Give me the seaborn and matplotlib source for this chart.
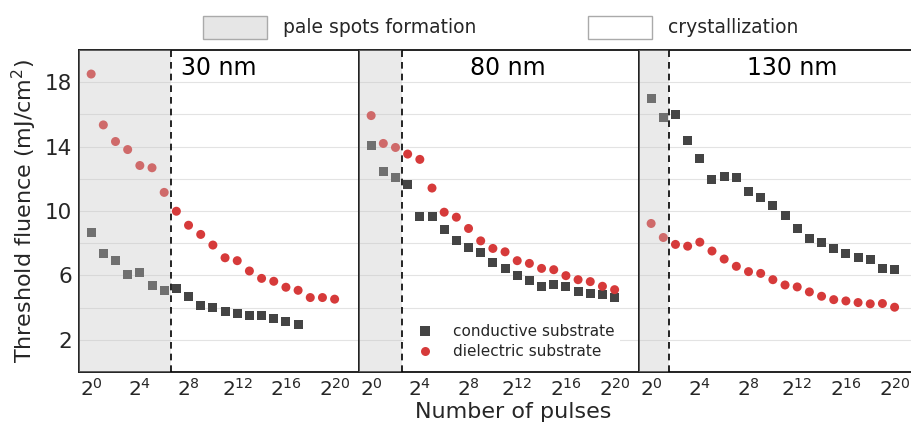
import numpy as np
import pandas as pd
import matplotlib
matplotlib.use('Agg')
import matplotlib.pyplot as plt
import matplotlib.transforms as mtransforms
from matplotlib.patches import Patch
from matplotlib.ticker import FixedLocator, NullFormatter
import seaborn as sns

# values (x = log2 of number of pulses)
thickness = ['30 nm', '80 nm', '130 nm']

cond_30 = [8.64, 7.34, 6.91, 6.08, 6.16, 5.38, 5.07, 5.20, 4.66, 4.14, 4.00, 3.75,
           3.61, 3.53, 3.53, 3.34, 3.11, 2.97]
diel_30 = [18.5, 15.34, 14.31, 13.81, 12.82, 12.68, 11.15, 9.98, 9.11, 8.54, 7.88, 7.09,
           6.91, 6.27, 5.81, 5.63, 5.26, 5.07, 4.62, 4.62, 4.52]

cond_80 = [14.06, 12.43, 12.06, 11.63, 9.63, 9.63, 8.82, 8.19, 7.73, 7.40, 6.80, 6.43,
           6.02, 5.67, 5.28, 5.44, 5.32, 5.01, 4.85, 4.82, 4.60]
diel_80 = [15.92, 14.19, 13.94, 13.53, 13.20, 11.42, 9.92, 9.61, 8.91, 8.14, 7.67, 7.46,
           6.91, 6.74, 6.43, 6.35, 5.98, 5.73, 5.61, 5.32, 5.11]

cond_130 = [16.97, 15.81, 15.98, 14.39, 13.28, 11.96, 12.16, 12.08, 11.18, 10.85, 10.35, 9.69,
            8.93, 8.31, 8.02, 7.65, 7.34, 7.09, 6.99, 6.41, 6.35]
diel_130 = [9.22, 8.35, 7.92, 7.81, 8.06, 7.51, 7.01, 6.56, 6.23, 6.12, 5.73, 5.40,
            5.28, 4.97, 4.70, 4.49, 4.41, 4.31, 4.23, 4.25, 4.02]

# boundary between pale spots and crystallization (log2 pulses)
boundary = [6.6, 2.5, 1.5]
label_x = [10.5, 11.25, 11.6]

rows = []
for name, cond, diel in zip(thickness, [cond_30, cond_80, cond_130], [diel_30, diel_80, diel_130]):
    for i, v in enumerate(cond):
        rows.append((name, 2.0 ** i, v, 'conductive substrate'))
    for i, v in enumerate(diel):
        rows.append((name, 2.0 ** i, v, 'dielectric substrate'))
df = pd.DataFrame(rows, columns=['thickness', 'pulses', 'fluence', 'substrate'])

sns.set_style('white')
plt.rcParams['font.family'] = ['DejaVu Sans']

palette = {'conductive substrate': '#444444', 'dielectric substrate': '#d63a3a'}
markers = {'conductive substrate': 's', 'dielectric substrate': 'o'}

fig = plt.figure(figsize=(9.12, 4.30), dpi=100)
gs = fig.add_gridspec(1, 3, width_ratios=[23, 23, 22.4], wspace=0,
                      left=0.0866, right=0.9996, bottom=0.135, top=0.884)
axes = [fig.add_subplot(gs[0, i]) for i in range(3)]

for k, ax in enumerate(axes):
    sub = df[df['thickness'] == thickness[k]]
    sns.scatterplot(data=sub, x='pulses', y='fluence', hue='substrate', style='substrate',
                    palette=palette, markers=markers, s=42, linewidth=0, ax=ax,
                    legend=(k == 1), zorder=2)
    ax.set_xscale('log', base=2)
    xmax = 21.4 if k == 2 else 22
    ax.set_xlim(2.0 ** -1, 2.0 ** xmax)
    ax.set_ylim(0, 20)
    ax.axvspan(2.0 ** -1, 2.0 ** boundary[k], color='#c4c4c4', alpha=0.35, lw=0, zorder=3)
    ax.axvline(2.0 ** boundary[k], color='black', ls=(0, (4, 3)), lw=1.2, zorder=4)

    ax.xaxis.set_major_locator(FixedLocator([2.0 ** e for e in [0, 4, 8, 12, 16, 20]]))
    ax.set_xticklabels(['$2^{%d}$' % e for e in [0, 4, 8, 12, 16, 20]])
    ax.xaxis.set_minor_locator(FixedLocator([2.0 ** e for e in range(-1, 23)]))
    ax.xaxis.set_minor_formatter(NullFormatter())
    ax.set_yticks([2, 6, 10, 14, 18])
    ax.set_yticks([4, 8, 12, 16], minor=True)
    ax.grid(True, axis='y', which='both', color='#e3e3e3', lw=0.8, zorder=0)
    ax.set_axisbelow(True)
    ax.tick_params(axis='both', which='major', direction='in', length=5, width=1,
                   color='#333333')
    ax.tick_params(axis='x', labelsize=14.5, pad=4)
    ax.tick_params(axis='y', labelsize=15.5, pad=5)
    ax.tick_params(axis='both', which='minor', direction='in', length=3, width=0.8,
                   color='#333333')
    for sp in ax.spines.values():
        sp.set_color('#222222')
        sp.set_linewidth(1.4)
    ax.set_xlabel('')
    ax.set_ylabel('')
    if k > 0:
        ax.tick_params(axis='y', which='both', labelleft=False)

    trans = mtransforms.blended_transform_factory(ax.transData, ax.transAxes)
    ax.text(2.0 ** label_x[k], 0.944, thickness[k], transform=trans, ha='center',
            va='center', fontsize=17, color='black', zorder=5)

axes[0].set_ylabel('Threshold fluence (mJ/cm$^2$)', fontsize=16, labelpad=4)
fig.text(0.5625, 0.042, 'Number of pulses', ha='center', va='center', fontsize=16)

leg = axes[1].legend(loc='lower left', bbox_to_anchor=(0.16, 0.02), borderaxespad=0,
                     frameon=True, fontsize=11, labelspacing=0.35, handletextpad=0.8,
                     markerscale=1.0)
leg.get_frame().set_facecolor('white')
leg.get_frame().set_edgecolor('none')
leg.get_frame().set_alpha(1)
leg.set_zorder(6)

handles = [Patch(facecolor='#e6e6e6', edgecolor='#aaaaaa', lw=1),
           Patch(facecolor='white', edgecolor='#aaaaaa', lw=1)]
fig.legend(handles, ['pale spots formation', 'crystallization'], loc='center',
           bbox_to_anchor=(0.549, 0.937), ncol=2, frameon=False, fontsize=13.5,
           handlelength=3.4, handleheight=1.5, handletextpad=0.85, columnspacing=6.0)

fig.savefig('out.png', dpi=100)
